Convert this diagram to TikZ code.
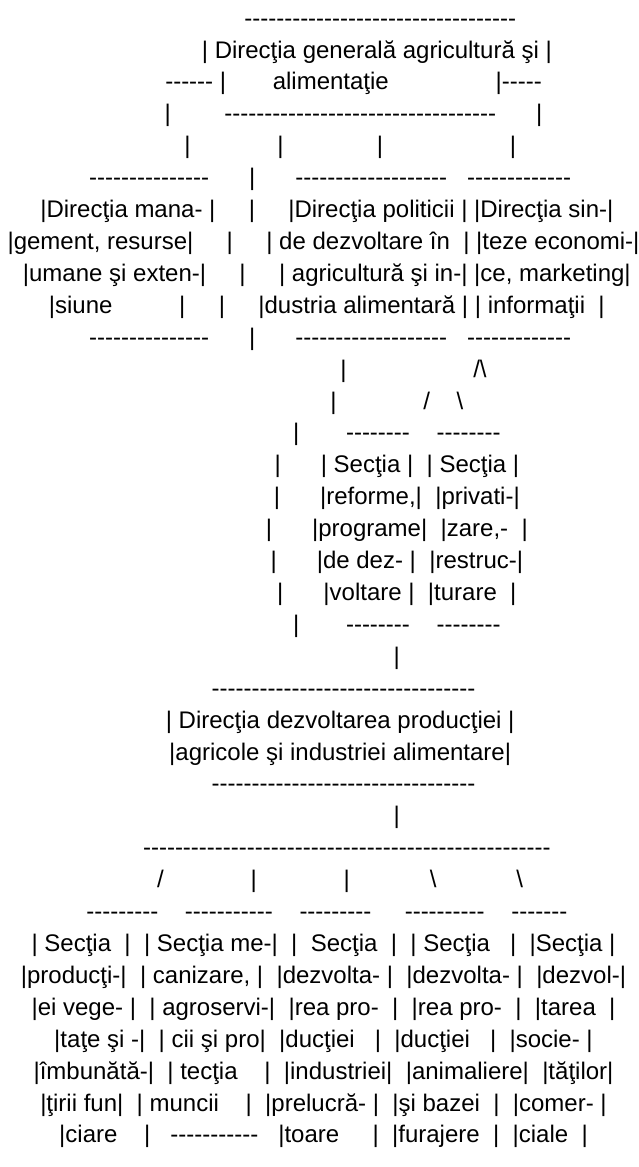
\documentclass[tikz,border=0pt]{standalone}
\usepackage{fontspec}
\setmainfont{Liberation Sans}
\newcommand\sk[1]{\hspace*{#1\fontdimen2\font}}
\newcommand\hy[1]{\foreach \ii in {1,...,#1}{\hbox{-}}}
\newcommand\bs{\textbackslash}
\newcommand\Lline[3]{\node[ln] (l#1) at (323.5,{26.1+(#1-1)*31.91}) {\sk{#2}#3};}
\begin{document}
\begin{tikzpicture}[x=1pt,y=-1pt,
  ln/.style={anchor=base,inner sep=0pt,outer sep=0pt,text=black,font=\fontsize{24}{24}\selectfont}]
\fill[white] (0,0) rectangle (639,1167);
\useasboundingbox (0,0) rectangle (639,1167);
\Lline{1}{17}{\hy{34}}
\Lline{2}{16}{| Direcţia generală agricultură şi |}
\Lline{3}{9}{\hy{6} |\sk{7}alimentaţie\sk{16}|\hy{5}}
\Lline{4}{9}{|\sk{8}\hy{34}\sk{6}|}
\Lline{5}{8}{|\sk{13}|\sk{14}|\sk{19}|}
\Lline{6}{2}{\hy{15}\sk{6}|\sk{6}\hy{19}\sk{3}\hy{13}}
\Lline{7}{1}{|Direcţia mana- |\sk{5}|\sk{5}|Direcţia politicii | |Direcţia sin-|}
\Lline{8}{0}{|gement, resurse|\sk{5}|\sk{5}| de dezvoltare în\sk{2}| |teze economi-|}
\Lline{9}{1}{|umane şi exten-|\sk{5}|\sk{5}| agricultură şi in-| |ce, marketing|}
\Lline{10}{1}{|siune\sk{10}|\sk{5}|\sk{5}|dustria alimentară | | informaţii\sk{2}|}
\Lline{11}{2}{\hy{15}\sk{6}|\sk{6}\hy{19}\sk{3}\hy{13}}
\Lline{12}{27}{|\sk{19}/\bs}
\Lline{13}{22}{|\sk{13}/\sk{4}\bs}
\Lline{14}{22}{|\sk{7}\hy{8}\sk{4}\hy{8}}
\Lline{15}{22}{|\sk{6}| Secţia |\sk{2}| Secţia |}
\Lline{16}{22}{|\sk{6}|reforme,|\sk{2}|privati-|}
\Lline{17}{22}{|\sk{6}|programe|\sk{2}|zare,-\sk{2}|}
\Lline{18}{22}{|\sk{6}|de dez- |\sk{2}|restruc-|}
\Lline{19}{22}{|\sk{6}|voltare |\sk{2}|turare\sk{2}|}
\Lline{20}{22}{|\sk{7}\hy{8}\sk{4}\hy{8}}
\Lline{21}{22}{|}
\Lline{22}{6}{\hy{33}}
\Lline{23}{5}{| Direcţia dezvoltarea producţiei |}
\Lline{24}{5}{|agricole şi industriei alimentare|}
\Lline{25}{6}{\hy{33}}
\Lline{26}{22}{|}
\Lline{27}{7}{\hy{51}}
\Lline{28}{5}{/\sk{13}|\sk{13}|\sk{12}\bs\sk{12}\bs}
\Lline{29}{1}{\hy{9}\sk{4}\hy{11}\sk{4}\hy{9}\sk{5}\hy{10}\sk{4}\hy{7}}
\Lline{30}{0}{| Secţia\sk{2}|\sk{2}| Secţia me-|\sk{2}|\sk{2}Secţia\sk{2}|\sk{2}| Secţia\sk{3}|\sk{2}|Secţia |}
\Lline{31}{0}{|producţi-|\sk{2}| canizare, |\sk{2}|dezvolta- |\sk{2}|dezvolta- |\sk{2}|dezvol-|}
\Lline{32}{0}{|ei vege- |\sk{2}| agroservi-|\sk{2}|rea pro-\sk{2}|\sk{2}|rea pro-\sk{2}|\sk{2}|tarea\sk{2}|}
\Lline{33}{0}{|taţe şi -|\sk{2}| cii şi pro|\sk{2}|ducţiei\sk{3}|\sk{2}|ducţiei\sk{3}|\sk{2}|socie- |}
\Lline{34}{0}{|îmbunătă-|\sk{2}| tecţia\sk{4}|\sk{2}|industriei|\sk{2}|animaliere|\sk{2}|tăţilor|}
\Lline{35}{0}{|ţirii fun|\sk{2}| muncii\sk{4}|\sk{2}|prelucră- |\sk{2}|şi bazei\sk{2}|\sk{2}|comer- |}
\Lline{36}{0}{|ciare\sk{4}|\sk{3}\hy{11}\sk{3}|toare\sk{5}|\sk{2}|furajere\sk{2}|\sk{2}|ciale\sk{2}|}
\end{tikzpicture}
\end{document}
